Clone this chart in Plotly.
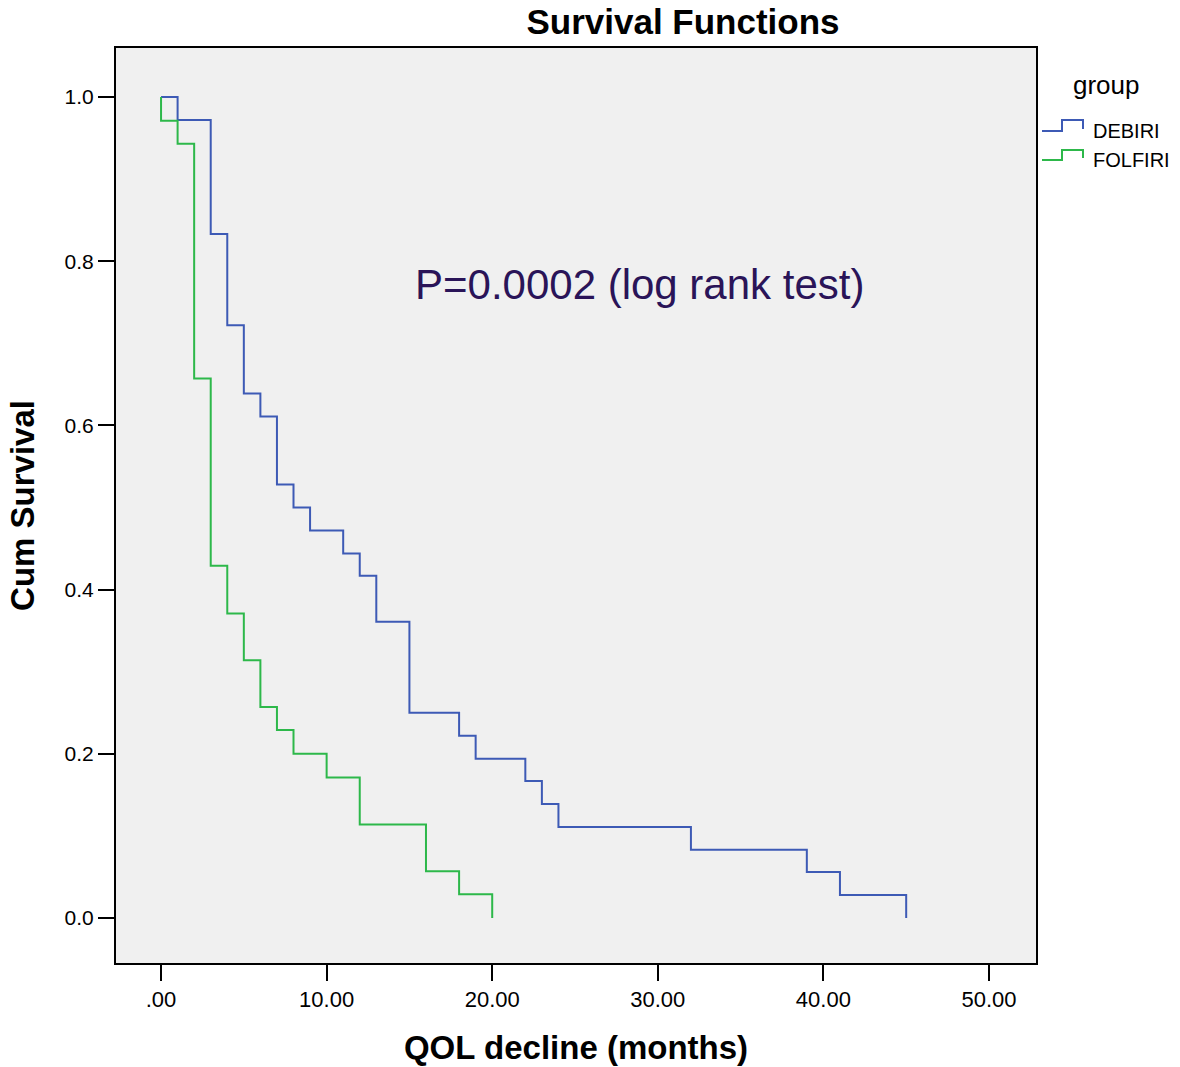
import plotly.graph_objects as go

# ---- data ----
group_names = ["DEBIRI", "FOLFIRI"]

times_debiri = [0, 1, 3, 4, 5, 6, 7, 8, 9, 11, 12, 13, 15, 18, 19, 22, 23, 24, 32, 39, 41, 45]
surv_debiri = [1.000, 0.972, 0.833, 0.722, 0.639, 0.611, 0.528, 0.500, 0.472, 0.444, 0.417,
               0.361, 0.250, 0.222, 0.194, 0.167, 0.139, 0.111, 0.083, 0.056, 0.028, 0.000]

times_folfiri = [0, 0, 1, 2, 3, 4, 5, 6, 7, 8, 10, 12, 16, 18, 20]
surv_folfiri = [1.000, 0.971, 0.943, 0.657, 0.429, 0.371, 0.314, 0.257, 0.229, 0.200, 0.171,
                0.114, 0.057, 0.029, 0.000]

x_tickvals = [0, 10, 20, 30, 40, 50]
x_ticktext = [".00", "10.00", "20.00", "30.00", "40.00", "50.00"]
y_tickvals = [0.0, 0.2, 0.4, 0.6, 0.8, 1.0]
y_ticktext = ["0.0", "0.2", "0.4", "0.6", "0.8", "1.0"]

annotation_text = "P=0.0002 (log rank test)"

# ---- style ----
W, H = 1180, 1067
ML, MR, MT, MB = 116, 144, 48, 104
FONT = "Liberation Sans, Arial, sans-serif"
colors = ["#3D5AB5", "#2DB84A"]

def px(xp):
    return (xp - ML) / (W - ML - MR)

def py(yp):
    return (H - MB - yp) / (H - MT - MB)

fig = go.Figure()
for name, t, s, c in [(group_names[0], times_debiri, surv_debiri, colors[0]),
                      (group_names[1], times_folfiri, surv_folfiri, colors[1])]:
    fig.add_trace(go.Scatter(x=t, y=s, mode="lines", name=name,
                             line=dict(color=c, width=2, shape="hv"),
                             showlegend=False))

# manual legend with step glyphs (SPSS style)
shapes = []
annotations = []
annotations.append(dict(text="group", xref="paper", yref="paper", x=px(1071), y=py(85),
                        xanchor="left", yanchor="middle", showarrow=False,
                        font=dict(family=FONT, size=26, color="black")))
legend_rows = [(131, 120, 129), (160, 150, 158)]
for name, c, (ylow, yhigh, yend) in zip(group_names, colors, legend_rows):
    path = (f"M {px(1042)},{py(ylow)} L {px(1062)},{py(ylow)} L {px(1062)},{py(yhigh)} "
            f"L {px(1083)},{py(yhigh)} L {px(1083)},{py(yend)}")
    shapes.append(dict(type="path", path=path, xref="paper", yref="paper",
                       line=dict(color=c, width=2)))
    annotations.append(dict(text=name, xref="paper", yref="paper", x=px(1091), y=py(ylow),
                            xanchor="left", yanchor="middle", showarrow=False,
                            font=dict(family=FONT, size=20, color="black")))

annotations.append(dict(text=annotation_text, x=28.9, y=0.772, xref="x", yref="y",
                        showarrow=False, xanchor="center", yanchor="middle",
                        font=dict(family=FONT, size=42, color="#2A1458")))

fig.update_layout(
    width=W, height=H,
    margin=dict(l=ML, r=MR, t=MT, b=MB, autoexpand=False),
    paper_bgcolor="white",
    plot_bgcolor="#F0F0F0",
    title=dict(text="<b>Survival Functions</b>", x=683 / W, xref="container",
               xanchor="center", y=1 - 22 / H, yanchor="middle",
               font=dict(family=FONT, size=35, color="black")),
    shapes=shapes,
    annotations=annotations,
    showlegend=False,
)
fig.update_xaxes(range=[-2.72, 52.84], tickvals=x_tickvals, ticktext=x_ticktext,
                 automargin=False,
                 showgrid=False, zeroline=False, showline=True, mirror=True,
                 linecolor="black", linewidth=2, ticks="outside", ticklen=16,
                 tickwidth=2, tickcolor="black",
                 tickfont=dict(family=FONT, size=22, color="black"),
                 title=dict(text="<b>QOL decline (months)</b>", standoff=24,
                            font=dict(family=FONT, size=33, color="black")))
fig.update_yaxes(range=[-0.0548, 1.0597], tickvals=y_tickvals, ticktext=y_ticktext,
                 automargin=False,
                 showgrid=False, zeroline=False, showline=True, mirror=True,
                 linecolor="black", linewidth=2, ticks="outside", ticklen=16,
                 tickwidth=2, tickcolor="black",
                 tickfont=dict(family=FONT, size=21, color="black"),
                 title=dict(text="<b>Cum Survival</b>", standoff=20,
                            font=dict(family=FONT, size=33, color="black")))

fig.write_html("out.html")
